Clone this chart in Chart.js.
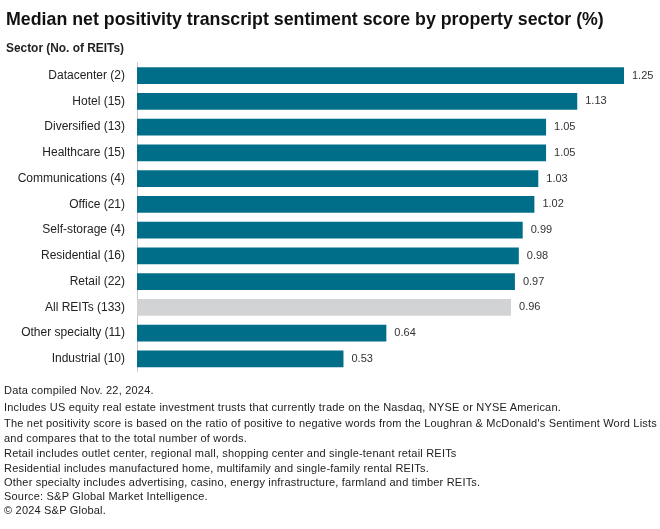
<!DOCTYPE html>
<html>
<head>
<meta charset="utf-8">
<script src="https://cdn.jsdelivr.net/npm/chart.js@4.4.1/dist/chart.umd.min.js"></script>
<style>
  html, body { margin: 0; padding: 0; background: #fff; }
  #wrap { width: 660px; height: 380px; position: relative; }
  #c { position: absolute; left: 0; top: 0; }
  #notes { position: relative; z-index: 2; font-family: "Liberation Sans", Arial, sans-serif; font-size: 11px;
           letter-spacing: 0.2px; color: #222; line-height: 14.2px; padding-left: 4px; padding-top: 3px; white-space: nowrap; }
  #notes div.g3 { margin-bottom: 3px; }
  #notes div.g2 { margin-bottom: 2px; }
  #notes div.g1 { margin-bottom: 1.5px; }
</style>
</head>
<body>
<div id="wrap"><canvas id="c" width="660" height="391"></canvas></div>
<div id="notes"></div>
<script>
const titleText = "Median net positivity transcript sentiment score by property sector (%)";
const subtitleText = "Sector (No. of REITs)";
const categories = ["Datacenter (2)", "Hotel (15)", "Diversified (13)", "Healthcare (15)", "Communications (4)", "Office (21)", "Self-storage (4)", "Residential (16)", "Retail (22)", "All REITs (133)", "Other specialty (11)", "Industrial (10)"];
const values = [1.25, 1.13, 1.05, 1.05, 1.03, 1.02, 0.99, 0.98, 0.97, 0.96, 0.64, 0.53];
const highlightCategory = "All REITs (133)";
const notes = [
  "Data compiled Nov. 22, 2024.",
  "Includes US equity real estate investment trusts that currently trade on the Nasdaq, NYSE or NYSE American.",
  "The net positivity score is based on the ratio of positive to negative words from the Loughran &amp; McDonald's Sentiment Word Lists<br>and compares that to the total number of words.",
  "Retail includes outlet center, regional mall, shopping center and single-tenant retail REITs",
  "Residential includes manufactured home, multifamily and single-family rental REITs.",
  "Other specialty includes advertising, casino, energy infrastructure, farmland and timber REITs.",
  "Source: S&amp;P Global Market Intelligence.",
  "&copy; 2024 S&amp;P Global."
];
const noteGapClasses = ['g3', 'g2', 'g1'];

const notesEl = document.getElementById('notes');
notes.forEach((n, i) => {
  const d = document.createElement('div');
  d.innerHTML = n;
  if (noteGapClasses[i]) d.className = noteGapClasses[i];
  notesEl.appendChild(d);
});

const FONT = "'Liberation Sans', Arial, sans-serif";
const teal = '#006e88';
const grey = '#d1d3d5';
const barColors = categories.map(c => c === highlightCategory ? grey : teal);

const valueLabels = {
  id: 'valueLabels',
  afterDatasetsDraw(chart) {
    const ctx = chart.ctx;
    const meta = chart.getDatasetMeta(0);
    ctx.save();
    ctx.font = "11px " + FONT;
    ctx.fillStyle = '#333';
    ctx.textAlign = 'left';
    ctx.textBaseline = 'middle';
    meta.data.forEach((bar, i) => {
      ctx.fillText(values[i].toFixed(2), bar.x + 8, bar.y);
    });
    ctx.restore();
  }
};

new Chart(document.getElementById('c'), {
  type: 'bar',
  data: {
    labels: categories,
    datasets: [{
      data: values,
      backgroundColor: barColors,
      borderWidth: 0,
      categoryPercentage: 1,
      barPercentage: 0.65
    }]
  },
  options: {
    indexAxis: 'y',
    responsive: false,
    animation: false,
    layout: { padding: { left: 6, right: 36, top: 0, bottom: 8 } },
    scales: {
      x: { display: false, min: 0, max: 1.25 },
      y: {
        grid: { display: false, drawTicks: false },
        border: { display: true, color: '#c8c8c8', width: 1 },
        ticks: { color: '#222', font: { size: 12, family: FONT }, padding: 12 },
        afterFit(scale) { scale.width = 131; }
      }
    },
    plugins: {
      legend: { display: false },
      tooltip: { enabled: false },
      title: {
        display: true, text: titleText, align: 'start', color: '#111',
        font: { size: 17.8, weight: 'bold', family: FONT },
        padding: { top: 9, bottom: 11 }
      },
      subtitle: {
        display: true, text: subtitleText, align: 'start', color: '#222',
        font: { size: 11.9, weight: 'bold', family: FONT },
        padding: { top: 0, bottom: 7 }
      }
    }
  },
  plugins: [valueLabels]
});
</script>
</body>
</html>
